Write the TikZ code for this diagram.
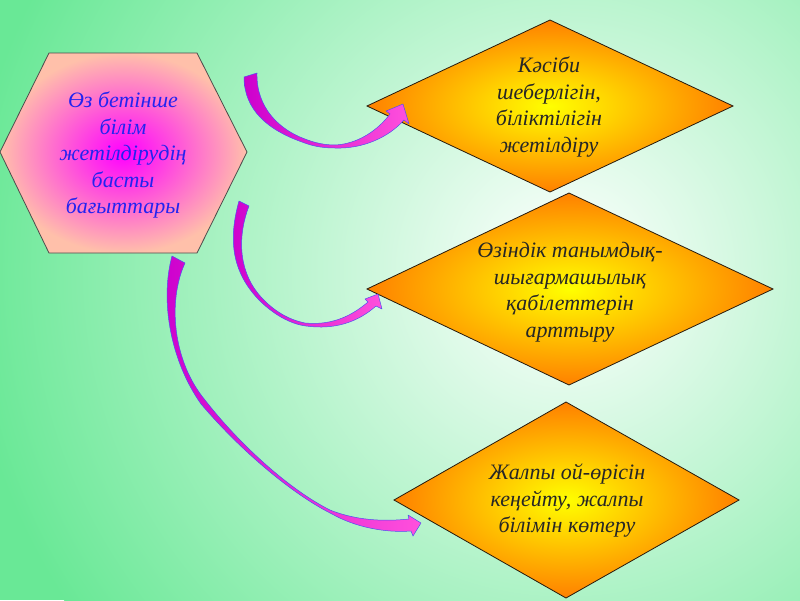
\documentclass[tikz,border=0pt]{standalone}
\usepackage{fontspec}
\setmainfont{Liberation Serif}
\definecolor{bggreen}{RGB}{105,232,150}
\definecolor{hexmag}{RGB}{255,0,255}
\definecolor{hexpeach}{RGB}{255,192,170}
\definecolor{dyellow}{RGB}{255,255,0}
\definecolor{dorange}{RGB}{255,128,0}
\definecolor{arrmag}{RGB}{205,0,205}
\definecolor{arrpink}{RGB}{255,80,220}
\definecolor{arrblue}{RGB}{80,80,240}
\definecolor{txtblue}{RGB}{35,35,240}
\tikzset{
  diamondshape/.style={inner color=dyellow, outer color=dorange, draw=black!80!brown, line width=0.8pt, line join=miter},
  hexshape/.style={inner color=hexmag, outer color=hexpeach, draw=black!70, line width=0.8pt},
  ribbon/.style={left color=arrmag, right color=arrpink, draw=arrblue, line width=0.5pt, line join=round},
  hextext/.style={font=\fontsize{22}{26.5}\selectfont\itshape, text=txtblue, align=center},
  dtext/.style={font=\fontsize{22}{26.5}\selectfont\itshape, text=black!85, align=center},
}
\begin{document}
\begin{tikzpicture}[x=1pt,y=-1pt]
\useasboundingbox (0,0) rectangle (800,600);
% background
\fill[bggreen] (0,0) rectangle (800,600);
\begin{scope}
  \clip (0,0) rectangle (800,600);
  \shade[inner color=white, outer color=bggreen] (565,270) circle [radius=600pt];
\end{scope}
% hexagon
\shade[hexshape] (0,152) -- (49,53) -- (197,53) -- (247,152) -- (197,253) -- (49,253) -- cycle;
\node[hextext] (hex) at (123,155) {Өз бетінше\\білім\\жетілдірудің\\басты\\бағыттары};
% diamonds
\shade[diamondshape] (367,106) -- (550,20) -- (733,106) -- (550,192) -- cycle;
\node[dtext] (d1) at (549,107) {Кәсіби\\шеберлігін,\\біліктілігін\\жетілдіру};
\shade[diamondshape] (367,289) -- (569,193) -- (773,289) -- (569,385) -- cycle;
\node[dtext] (d2) at (570,292) {Өзіндік танымдық-\\шығармашылық\\қабілеттерін\\арттыру};
\shade[diamondshape] (394,500) -- (566,402) -- (739,500) -- (566,598) -- cycle;
\node[dtext] (d3) at (567,501) {Жалпы ой-өрісін\\кеңейту, жалпы\\білімін көтеру};
% arrow 1
\shade[ribbon] (257,73) .. controls (256,108) and (280,130) .. (305,139)
  .. controls (315,143) and (325,145) .. (335,145)
  .. controls (358,144) and (378,130) .. (390,114)
  -- (386,111) -- (403,104) -- (409,124) -- (404,120)
  .. controls (388,138) and (362,149) .. (335,148)
  .. controls (322,148) and (312,146) .. (302,142)
  .. controls (268,130) and (244,110) .. (244,77) -- cycle;
% arrow 2
\shade[ribbon] (249,206) .. controls (236,240) and (240,275) .. (262,298)
  .. controls (275,312) and (290,320) .. (305,323)
  .. controls (335,326) and (355,313) .. (368,302)
  -- (365,299) -- (378,294) -- (382,309) -- (376,306)
  .. controls (358,322) and (335,330) .. (306,326)
  .. controls (290,324) and (273,314) .. (259,300)
  .. controls (232,272) and (228,240) .. (239,201) -- cycle;
% arrow 3
\shade[ribbon] (185,263) .. controls (168,300) and (172,360) .. (205,400)
  .. controls (240,445) and (290,490) .. (330,510)
  .. controls (360,522) and (390,521) .. (409,519)
  -- (408,515) -- (421,523) -- (413,536) -- (411,531)
  .. controls (385,533) and (355,527) .. (332,514)
  .. controls (292,494) and (241,451) .. (201,404)
  .. controls (170,360) and (160,300) .. (172,256) -- cycle;
\end{tikzpicture}
\end{document}
